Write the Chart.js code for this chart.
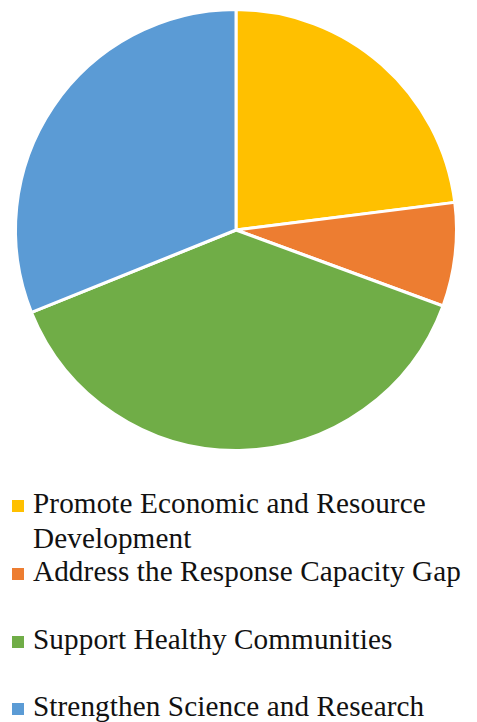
<!DOCTYPE html>
<html>
<head>
<meta charset="utf-8">
<script src="https://cdn.jsdelivr.net/npm/chart.js@4"></script>
<style>
  body { margin: 0; background: #fff; }
  #wrap { width: 477px; height: 460px; position: relative; }
  #legend { list-style: none; margin: 0; padding: 0; position: absolute; top: 486px; left: 0; width: 477px;
    font-family: "Liberation Serif", serif; font-size: 29.2px; letter-spacing: 0.1px; line-height: 35px; color: #111; }
  #legend li { display: flex; align-items: flex-start; height: 67.8px; }
  #legend .box { width: 12px; height: 12px; margin: 14px 9px 0 12px; flex: none; }
</style>
</head>
<body>
<div id="wrap"><canvas id="pie"></canvas></div>
<ul id="legend"></ul>
<script>
const etiquetas = [
  "Promote Economic and Resource Development",
  "Address the Response Capacity Gap",
  "Support Healthy Communities",
  "Strengthen Science and Research"
];
const valores = [23.0, 7.6, 38.3, 31.1];
const colores = ["#FFC000", "#ED7D31", "#70AD47", "#5B9BD5"];

const config = {
  type: "pie",
  data: {
    labels: etiquetas,
    datasets: [{
      data: valores,
      backgroundColor: colores,
      borderColor: "#fff",
      borderWidth: 3
    }]
  },
  options: {
    responsive: true,
    maintainAspectRatio: false,
    animation: false,
    layout: { padding: { top: 8, bottom: 8, left: 0, right: 5 } },
    plugins: { legend: { display: false }, tooltip: { enabled: false } }
  }
};

const myChart = new Chart(document.getElementById("pie"), config);

const legend = document.getElementById("legend");
let template = "";
etiquetas.forEach((txt, i) => {
  template += `<li><span class="box" style="background:${colores[i]}"></span><span>${txt}</span></li>`;
});
legend.innerHTML = template;
</script>
</body>
</html>
